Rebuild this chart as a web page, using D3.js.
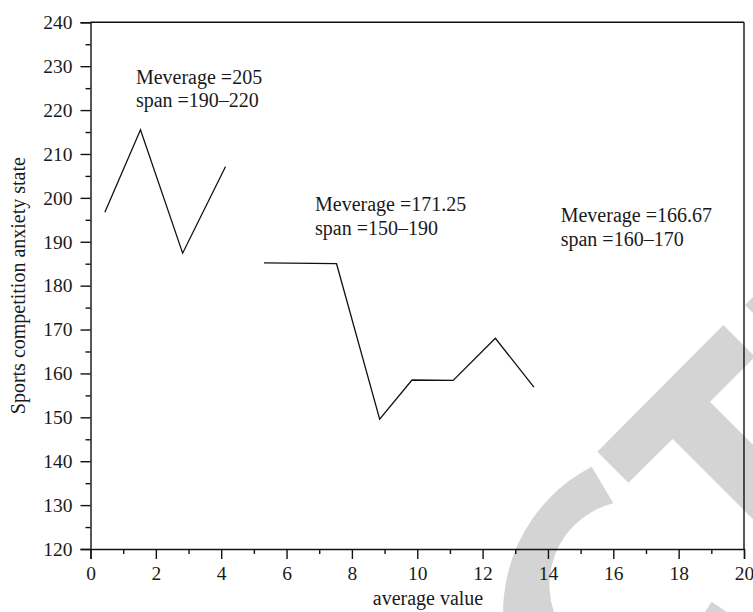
<!DOCTYPE html>
<html>
<head>
<meta charset="utf-8">
<script src="https://cdn.jsdelivr.net/npm/d3@7/dist/d3.min.js"></script>
<style>
  html, body { margin: 0; padding: 0; background: #fff; }
  svg { display: block; }
  text { font-family: "Liberation Serif", "Times New Roman", serif; fill: #1a1a1a; }
</style>
</head>
<body>
<svg id="chart" width="753" height="612"></svg>
<script>
// ---------------- data ----------------
const seg1X = [0.44, 1.53, 2.82, 4.13];
const seg1Y = [196.7, 215.5, 187.4, 207.1];
const seg2X = [5.31, 7.53, 8.85, 9.84, 11.1, 12.39, 13.57];
const seg2Y = [185.2, 185.0, 149.6, 158.5, 158.4, 168.0, 156.9];

const meverages = ["205", "171.25", "166.67"];
const spans = ["190–220", "150–190", "160–170"];

const xMajorTicks = [0, 2, 4, 6, 8, 10, 12, 14, 16, 18, 20];
const xMinorTicks = [1, 3, 5, 7, 9, 11, 13, 15, 17, 19];
const yMajorTicks = [120, 130, 140, 150, 160, 170, 180, 190, 200, 210, 220, 230, 240];
const yMinorTicks = [125, 135, 145, 155, 165, 175, 185, 195, 205, 215, 225, 235];

const xTitle = "average value";
const yTitle = "Sports competition anxiety state";

// ---------------- layout ----------------
const W = 753, H = 612;
const plotL = 90.5, plotR = 744, plotT = 22.3, plotB = 549;
// annotation anchors in data units (x, y of first baseline)
const annoAnchors = [[1.39, 226.0], [6.87, 197.0], [14.39, 194.4]];

const svg = d3.select("#chart");
const x = d3.scaleLinear().domain([0, 20]).range([plotL, plotR]);
const y = d3.scaleLinear().domain([120, 240]).range([plotB, plotT]);

// ---------------- watermark (background) ----------------
const wm = svg.append("g").attr("fill", "#d4d4d4");
wm.append("path").attr("d",
  "M591.7,466.7 A164,164 0 0,0 507.5,650 L580.4,650 A84,84 0 0,1 613.3,503.3 Z");
wm.append("path").attr("d", "M711.7,601.7 L686.8,640 L767.5,640 Z");
wm.append("path").attr("d",
  "M597.3,451.7 L628.3,482.7 L672.7,439 L790,556.3 L790,481.7 L710,401.7 L755,356.7 L723.3,325 Z");
wm.append("path").attr("d", "M745,305 L775,275 L775,335 Z");

// ---------------- axes ----------------
const axisStroke = 1.4;

svg.append("g").attr("transform", `translate(0,${plotB})`)
  .call(d3.axisBottom(x).tickValues(xMajorTicks).tickSize(10).tickPadding(7).tickFormat(d3.format("d")));
svg.append("g").attr("transform", `translate(0,${plotB})`)
  .call(d3.axisBottom(x).tickValues(xMinorTicks).tickSize(5).tickFormat(""))
  .call(g => g.select(".domain").remove());

svg.append("g").attr("transform", `translate(${plotL},0)`)
  .call(d3.axisLeft(y).tickValues(yMajorTicks).tickSize(10).tickPadding(8).tickFormat(d3.format("d")));
svg.append("g").attr("transform", `translate(${plotL},0)`)
  .call(d3.axisLeft(y).tickValues(yMinorTicks).tickSize(5).tickFormat(""))
  .call(g => g.select(".domain").remove());

svg.selectAll(".domain").attr("stroke", "#111").attr("stroke-width", axisStroke);
svg.selectAll(".tick line").attr("stroke", "#111").attr("stroke-width", axisStroke);
svg.selectAll(".tick text")
  .attr("font-family", "Liberation Serif, serif")
  .attr("font-size", 19.5)
  .attr("fill", "#1a1a1a");

// top and right border
svg.append("line").attr("x1", x(0)).attr("x2", x(20)).attr("y1", y(240)).attr("y2", y(240))
  .attr("stroke", "#111").attr("stroke-width", axisStroke);
svg.append("line").attr("x1", x(20)).attr("x2", x(20)).attr("y1", y(240)).attr("y2", y(120))
  .attr("stroke", "#111").attr("stroke-width", axisStroke);

// ---------------- lines ----------------
const line = d3.line().x(d => x(d[0])).y(d => y(d[1]));
[[seg1X, seg1Y], [seg2X, seg2Y]].forEach(([xs, ys]) => {
  svg.append("path")
    .datum(xs.map((v, i) => [v, ys[i]]))
    .attr("d", line)
    .attr("fill", "none")
    .attr("stroke", "#111")
    .attr("stroke-width", 1.3)
    .attr("stroke-linejoin", "miter");
});

// ---------------- annotations ----------------
meverages.forEach((m, i) => {
  const [ax, ay] = annoAnchors[i];
  const t = svg.append("text")
    .attr("x", x(ax)).attr("y", y(ay))
    .attr("font-size", 20);
  t.append("tspan").attr("x", x(ax)).text("Meverage =" + m);
  t.append("tspan").attr("x", x(ax)).attr("dy", 23.5).text("span =" + spans[i]);
});

// ---------------- titles ----------------
svg.append("text")
  .attr("x", 428).attr("y", 605)
  .attr("text-anchor", "middle")
  .attr("font-size", 20)
  .text(xTitle);

svg.append("text")
  .attr("transform", `translate(25,${(plotT + plotB) / 2}) rotate(-90)`)
  .attr("text-anchor", "middle")
  .attr("font-size", 20)
  .text(yTitle);
</script>
</body>
</html>
